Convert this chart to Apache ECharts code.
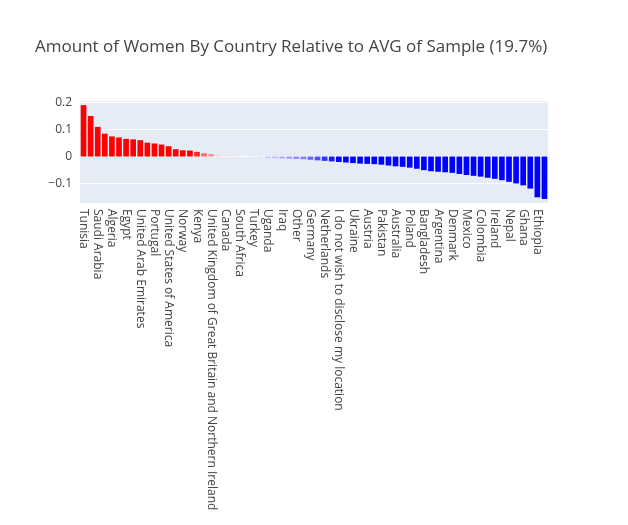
<!DOCTYPE html>
<html style="height: 100%">
<head><meta charset="utf-8"></head>
<body style="height: 100%; margin: 0">
<div id="container" style="height: 100%"></div>
<script src="https://cdn.jsdelivr.net/npm/echarts@6/dist/echarts.min.js"></script>
<script>
var countries = ['Tunisia','Morocco','Saudi Arabia','Sri Lanka','Algeria','Philippines','Egypt','Israel',
  'United Arab Emirates','Switzerland','Portugal','Singapore','United States of America','Spain','Norway','Italy',
  'Kenya','Belgium','United Kingdom of Great Britain and Northern Ireland','France','Canada','Chile','South Africa','Peru',
  'Turkey','Brazil','Uganda','Iran','Iraq','Viet Nam','Other','Russia','Germany','Greece','Netherlands','Indonesia',
  'I do not wish to disclose my location','Japan','Ukraine','Malaysia','Austria','Thailand','Pakistan','Taiwan',
  'Australia','Hong Kong','Poland','India','Bangladesh','Romania','Argentina','Sweden','Denmark','Czech Republic',
  'Mexico','China','Colombia','South Korea','Ireland','Nigeria','Nepal','Belarus','Ghana','Kazakhstan','Ethiopia','Cameroon'];
var values = [0.189,0.149,0.109,0.084,0.074,0.070,0.065,0.063,0.060,0.051,0.048,0.044,0.038,0.027,0.023,0.022,
  0.017,0.012,0.009,0.004,0.003,0.002,0.001,0.0005,
  -0.002,-0.003,-0.005,-0.006,-0.007,-0.008,-0.009,-0.010,-0.012,-0.014,-0.016,-0.018,-0.020,-0.022,-0.024,-0.026,
  -0.027,-0.028,-0.030,-0.033,-0.036,-0.038,-0.041,-0.045,-0.050,-0.054,-0.056,-0.058,-0.060,-0.064,-0.068,-0.071,
  -0.074,-0.078,-0.082,-0.087,-0.093,-0.099,-0.106,-0.118,-0.150,-0.156];

var myChart = echarts.init(document.getElementById('container'));
var option = {
  title: {
    text: 'Amount of Women By Country Relative to AVG of Sample (19.7%)',
    left: 30, top: 34,
    textStyle: {fontFamily: 'Open Sans', fontSize: 17, fontWeight: 'normal', color: '#444'}
  },
  grid: {left: 80, right: 80, top: 100, bottom: 322, show: true, backgroundColor: '#E5ECF6', borderWidth: 0},
  visualMap: {show: false, type: 'continuous', min: -0.02, max: 0.02, dimension: 1,
    inRange: {color: ['#0000ff', '#ffffff', '#ff0000']}},
  xAxis: {
    type: 'category', data: countries,
    axisLine: {show: false}, axisTick: {show: false},
    axisLabel: {interval: 1, rotate: -90, fontFamily: 'Open Sans', fontSize: 12, color: '#444', margin: 6}
  },
  yAxis: {
    type: 'value', min: -0.171, max: 0.208,
    axisLabel: {showMinLabel: false, showMaxLabel: false, fontFamily: 'Open Sans', fontSize: 12, color: '#444',
      formatter: function (v) { return v < 0 ? '\u2212' + (-v) : String(v); }},
    splitLine: {lineStyle: {color: '#fff', width: 1}}
  },
  series: [{type: 'bar', data: values, barCategoryGap: '20%'}]
};
myChart.setOption(option);
</script>
</body>
</html>
